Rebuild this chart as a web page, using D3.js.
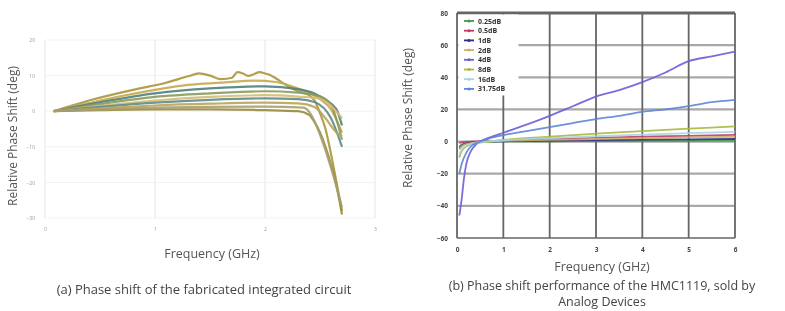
<!DOCTYPE html>
<html>
<head>
<meta charset="utf-8">
<script src="https://cdn.jsdelivr.net/npm/d3@7"></script>
<style>
  body { margin: 0; background: #fff; }
  svg { display: block; filter: blur(0.45px); }
  text { font-family: "Open Sans", "Liberation Sans", sans-serif; }
</style>
</head>
<body>
<div id="figure"></div>
<script>
// ---------- data: panel (a), fabricated IC ----------
var aXTicks = [0, 1, 2, 3];
var aYTicks = [20, 10, 0, -10, -20, -30];
var aColors = ["#a8963a", "#c6a94e", "#4f7f80", "#8a9a5a", "#d4bc72", "#5f8a88", "#b9a456", "#9a8a3c", "#a8a070"];
var aSeries = [
  [[0.08,0],[0.4,3],[0.8,6],[1.1,8],[1.3,9.8],[1.4,10.6],[1.5,10],[1.6,9],[1.7,9.4],[1.75,11],[1.8,10.6],[1.85,9.9],[1.9,10.4],[1.95,11],[2.0,10.6],[2.05,10.1],[2.1,9.2],[2.2,7.2],[2.3,5.6],[2.4,4.5],[2.45,3],[2.5,-0.5],[2.55,-5],[2.6,-12],[2.65,-20],[2.7,-28]],
  [[0.08,0],[0.5,3],[1,6],[1.3,7.4],[1.6,8],[1.9,8.6],[2.1,8.2],[2.3,6.4],[2.4,5.2],[2.5,3.4],[2.6,0.5],[2.7,-6]],
  [[0.08,0],[0.5,2.5],[1,5],[1.5,6.4],[2,7],[2.3,6.2],[2.45,5],[2.55,3.2],[2.65,0.5],[2.7,-4]],
  [[0.08,0],[0.5,2],[1,4],[1.5,5],[2,5.6],[2.3,5.2],[2.5,4.2],[2.6,1.8],[2.7,-8]],
  [[0.08,0],[0.5,1.5],[1,3],[1.5,4],[2,4.5],[2.3,4.1],[2.5,3.5],[2.6,1.5],[2.7,-2]],
  [[0.08,0],[0.5,1.2],[1,2.4],[1.5,3.2],[2,3.6],[2.3,3.4],[2.45,2.6],[2.6,-2],[2.7,-10]],
  [[0.08,0],[0.5,0.8],[1,1.6],[1.5,2.1],[2,2.4],[2.3,2.2],[2.45,1.2],[2.55,-2],[2.65,-6],[2.7,-7]],
  [[0.08,0],[0.5,0.3],[1,0.5],[1.5,0.5],[2,0.3],[2.3,0],[2.4,-1],[2.45,-3],[2.5,-6],[2.55,-10],[2.6,-15],[2.65,-21],[2.7,-29]],
  [[0.08,0],[1,1],[2,1.3],[2.35,1],[2.42,-1],[2.48,-5],[2.55,-11],[2.62,-18],[2.7,-27]]
];

// ---------- data: panel (b), HMC1119 ----------
var bXTicks = [0, 1, 2, 3, 4, 5, 6];
var bYTicks = [80, 60, 40, 20, 0, -20, -40, -60];
var bStates = ["0.25dB", "0.5dB", "1dB", "2dB", "4dB", "8dB", "16dB", "31.75dB"];
var bColors = ["#3f9a4c", "#c23a6a", "#2c2c86", "#d2ad66", "#6a5ed8", "#aab83e", "#a6d4e6", "#5d86d4"];
var bSeries = [
  [[0.05,-3],[0.1,-2],[0.2,-1],[0.4,-0.3],[0.7,0],[1,0.1],[2,0.2],[3,0.3],[4,0.4],[5,0.5],[6,0.6]],
  [[0.05,-1],[0.1,-0.5],[0.3,0],[0.7,0.3],[1,0.6],[2,1.5],[3,2.3],[4,3],[5,3.6],[6,4.2]],
  [[0.05,-4],[0.1,-2.5],[0.2,-1.2],[0.4,-0.4],[0.7,0],[1,0.2],[2,0.6],[3,0.9],[4,1.2],[5,1.4],[6,1.6]],
  [[0.05,-5],[0.1,-3],[0.2,-1.5],[0.4,-0.5],[0.7,0],[1,0.4],[2,1],[3,1.6],[4,2.1],[5,2.6],[6,3]],
  [[0.05,-46],[0.1,-36],[0.15,-23],[0.2,-14],[0.3,-6],[0.4,-2],[0.5,0],[0.7,2.5],[1,5.5],[1.5,10.5],[2,16],[2.5,22],[3,28],[3.5,32],[4,37],[4.5,43],[5,50],[5.5,53],[6,56]],
  [[0.05,-10],[0.1,-6],[0.2,-3],[0.4,-1],[0.7,0],[1,1],[2,3],[3,5],[4,6.5],[5,8],[6,9.5]],
  [[0.05,-8],[0.1,-5],[0.2,-2.5],[0.4,-0.8],[0.7,0.2],[1,0.8],[2,2.2],[3,3.3],[4,4.3],[5,5.2],[6,6]],
  [[0.05,-20],[0.1,-14],[0.2,-7],[0.3,-3],[0.5,0],[0.7,2],[1,4],[1.5,6.5],[2,9],[2.5,11.5],[3,14],[3.5,16],[4,18.5],[4.5,20],[5,22],[5.5,24.5],[6,26]]
];

var width = 785, height = 311;
var svg = d3.select("#figure").append("svg")
  .attr("width", width).attr("height", height);

var line = d3.line().curve(d3.curveMonotoneX);

/* ================= panel (a) ================= */
var ax = d3.scaleLinear().domain([0, 3]).range([45, 375]);
var ay = d3.scaleLinear().domain([-30, 20]).range([218, 40]);
var ga = svg.append("g");

// faint grid
ga.selectAll(".vg").data(aXTicks).enter().append("line")
  .attr("x1", d => ax(d)).attr("x2", d => ax(d))
  .attr("y1", ay(20)).attr("y2", ay(-30))
  .attr("stroke", "#e6e6e6").attr("stroke-width", 1);
ga.selectAll(".hg").data(aYTicks).enter().append("line")
  .attr("x1", ax(0)).attr("x2", ax(3))
  .attr("y1", d => ay(d)).attr("y2", d => ay(d))
  .attr("stroke", "#f2f2f2").attr("stroke-width", 1);

// tick labels, tiny and grey like the scan
ga.append("g").attr("transform", "translate(0,228)")
  .call(d3.axisBottom(ax).tickValues(aXTicks).tickSize(0).tickFormat(d3.format("d")))
  .call(g => g.select(".domain").remove())
  .selectAll("text").attr("font-size", 5).attr("fill", "#999").attr("dy", 0);
ga.append("g").attr("transform", "translate(38,0)")
  .call(d3.axisLeft(ay).tickValues(aYTicks).tickSize(0))
  .call(g => g.select(".domain").remove())
  .selectAll("text").attr("font-size", 5).attr("fill", "#999");

ga.selectAll(".acurve").data(aSeries).enter().append("path")
  .attr("d", d => line.x(p => ax(p[0])).y(p => ay(p[1]))(d))
  .attr("fill", "none")
  .attr("stroke", (d, i) => aColors[i])
  .attr("stroke-width", 2.2)
  .attr("opacity", 0.9);

ga.append("text").attr("transform", "translate(17,136) rotate(-90)")
  .attr("text-anchor", "middle").attr("font-size", 12).attr("fill", "#555")
  .text("Relative Phase Shift (deg)");
ga.append("text").attr("x", 212).attr("y", 258)
  .attr("text-anchor", "middle").attr("font-size", 12.5).attr("fill", "#555")
  .text("Frequency (GHz)");
ga.append("text").attr("x", 204).attr("y", 294)
  .attr("text-anchor", "middle").attr("font-size", 13).attr("fill", "#444")
  .text("(a) Phase shift of the fabricated integrated circuit");

/* ================= panel (b) ================= */
var bx = d3.scaleLinear().domain([0, 6]).range([457, 735]);
var by = d3.scaleLinear().domain([-60, 80]).range([238, 13]);
var gb = svg.append("g");

// horizontal grid (lighter, thick)
gb.selectAll(".hg").data(bYTicks.filter(d => d > -60 && d < 80)).enter().append("line")
  .attr("x1", bx(0)).attr("x2", bx(6))
  .attr("y1", d => by(d)).attr("y2", d => by(d))
  .attr("stroke", "#a8a8a8").attr("stroke-width", 2.2);
// vertical grid (dark)
gb.selectAll(".vg").data(bXTicks).enter().append("line")
  .attr("x1", d => bx(d)).attr("x2", d => bx(d))
  .attr("y1", by(80)).attr("y2", by(-60))
  .attr("stroke", "#666").attr("stroke-width", 1.8);
// top and bottom frame
gb.append("line").attr("x1", bx(0)).attr("x2", bx(6)).attr("y1", by(80)).attr("y2", by(80))
  .attr("stroke", "#666").attr("stroke-width", 3);
gb.append("line").attr("x1", bx(0)).attr("x2", bx(6)).attr("y1", by(-60)).attr("y2", by(-60))
  .attr("stroke", "#666").attr("stroke-width", 1.5);

gb.selectAll(".bcurve").data(bSeries).enter().append("path")
  .attr("d", d => line.x(p => bx(p[0])).y(p => by(p[1]))(d))
  .attr("fill", "none")
  .attr("stroke", (d, i) => bColors[i])
  .attr("stroke-width", 1.8)
  .attr("opacity", 0.9);

// legend sits on a white patch that hides the grid
var leg = gb.append("g");
leg.append("rect").attr("x", bx(0) + 1.5).attr("y", by(80) + 1.5)
  .attr("width", 60).attr("height", 81).attr("fill", "#fff");
var legItems = leg.selectAll(".li").data(bStates).enter().append("g")
  .attr("transform", (d, i) => "translate(464," + (21 + i * 9.7) + ")");
legItems.append("line").attr("x1", 0).attr("x2", 10)
  .attr("stroke", (d, i) => bColors[i]).attr("stroke-width", 1.8);
legItems.append("circle").attr("cx", 5).attr("r", 1.5)
  .attr("fill", (d, i) => bColors[i]);
legItems.append("text").attr("x", 14).attr("y", 2.5)
  .attr("font-size", 7).attr("font-weight", "bold").attr("fill", "#333")
  .text(d => d);

// axes labels
gb.append("g").attr("transform", "translate(0,249)")
  .call(d3.axisBottom(bx).tickValues(bXTicks).tickSize(0).tickFormat(d3.format("d")))
  .call(g => g.select(".domain").remove())
  .selectAll("text").attr("font-size", 6.5).attr("font-weight", "bold").attr("fill", "#444").attr("dy", 0);
gb.append("g").attr("transform", "translate(451,0)")
  .call(d3.axisLeft(by).tickValues(bYTicks).tickSize(0))
  .call(g => g.select(".domain").remove())
  .selectAll("text").attr("font-size", 6.5).attr("font-weight", "bold").attr("fill", "#444");

gb.append("text").attr("transform", "translate(412,118) rotate(-90)")
  .attr("text-anchor", "middle").attr("font-size", 12).attr("fill", "#555")
  .text("Relative Phase Shift (deg)");
gb.append("text").attr("x", 602).attr("y", 271)
  .attr("text-anchor", "middle").attr("font-size", 12.5).attr("fill", "#555")
  .text("Frequency (GHz)");
gb.append("text").attr("x", 602).attr("y", 290)
  .attr("text-anchor", "middle").attr("font-size", 12.5).attr("fill", "#444")
  .text("(b) Phase shift performance of the HMC1119, sold by");
gb.append("text").attr("x", 602).attr("y", 306)
  .attr("text-anchor", "middle").attr("font-size", 12.5).attr("fill", "#444")
  .text("Analog Devices");
</script>
</body>
</html>
